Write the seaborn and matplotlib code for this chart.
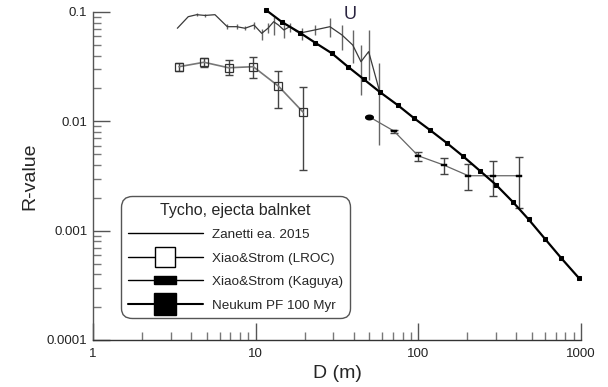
import matplotlib
matplotlib.use("Agg")
import matplotlib.pyplot as plt
import seaborn as sns
import pandas as pd
import numpy as np
from matplotlib.lines import Line2D
from matplotlib.ticker import FixedLocator, FixedFormatter, LogLocator, NullFormatter

sns.set_style("ticks")
plt.rcParams['font.family'] = ['Liberation Sans', 'DejaVu Sans']

# ---- data ----
zan_D = [3.30, 3.85, 4.34, 4.88, 5.62, 6.69, 7.64, 8.60, 9.77, 10.9, 11.9, 12.9, 13.8,
         14.9, 16.2, 17.9, 19.2, 23.1, 28.6, 33.9, 39.5, 44.4, 49.5, 57.5]
zan_R = [0.071, 0.0906, 0.0945, 0.093, 0.0945, 0.0734, 0.0734, 0.071, 0.076, 0.0638, 0.071,
         0.0815, 0.076, 0.0685, 0.0734, 0.066, 0.0647, 0.0685, 0.0734, 0.0617, 0.0499,
         0.0351, 0.0434, 0.0193]
zan_lo = [0.071, 0.0906, 0.091, 0.090, 0.0945, 0.070, 0.070, 0.068, 0.0694, 0.0555, 0.0638,
          0.0617, 0.076, 0.0575, 0.066, 0.066, 0.0555, 0.0617, 0.0595, 0.0449, 0.0341,
          0.0174, 0.0239, 0.00607]
zan_hi = [0.071, 0.0906, 0.098, 0.096, 0.0945, 0.077, 0.077, 0.074, 0.0815, 0.0695, 0.0788,
          0.0906, 0.076, 0.0815, 0.0788, 0.066, 0.071, 0.076, 0.0875, 0.076, 0.0684,
          0.0499, 0.0684, 0.0341]

lroc_D = [3.38, 4.81, 6.82, 9.67, 13.8, 19.6]
lroc_R = [0.0316, 0.0347, 0.0309, 0.0316, 0.0210, 0.0121]
lroc_lo = [0.029, 0.0316, 0.0265, 0.0247, 0.0132, 0.00358]
lroc_hi = [0.034, 0.0377, 0.0364, 0.0386, 0.029, 0.0207]

kag_D = [49.9, 70.8, 99.8, 143.5, 203, 289, 413]
kag_R = [0.0110, 0.00815, 0.00484, 0.00398, 0.00318, 0.00318, 0.00318]
kag_lo = [0.0110, 0.0079, 0.00434, 0.0033, 0.00235, 0.00207, 0.0016]
kag_hi = [0.0110, 0.0084, 0.00527, 0.00458, 0.00406, 0.00431, 0.00474]

neu_D = [11.6, 14.5, 18.7, 23.2, 29.4, 36.9, 46.3, 58.1, 75.0, 94.0, 118, 149, 187, 239,
         300, 380, 476, 600, 756, 967]
neu_R = [0.104, 0.081, 0.0647, 0.0524, 0.0419, 0.0316, 0.0242, 0.0185, 0.0140, 0.0107,
         0.00832, 0.00637, 0.00484, 0.00353, 0.00263, 0.00184, 0.00127, 0.000843,
         0.000561, 0.000371]

x_ticks = [1, 10, 100, 1000]
x_labels = ["1", "10", "100", "1000"]
y_ticks = [0.0001, 0.001, 0.01, 0.1]
y_labels = ["0.0001", "0.001", "0.01", "0.1"]

legend_title = "Tycho, ejecta balnket"
labels = ["Zanetti ea. 2015", "Xiao&Strom (LROC)", "Xiao&Strom (Kaguya)", "Neukum PF 100 Myr"]

# ---- figure ----
fig = plt.figure(figsize=(6.08, 3.87), dpi=100)
ax = fig.add_axes([93/608, 1-340/387, (581-93)/608, (340-12)/387])
ax.set_xscale("log")
ax.set_yscale("log")
ax.set_xlim(1, 1000)
ax.set_ylim(0.0001, 0.1)

kag_marker = [(-1, -0.4), (1, -0.4), (1, 0.4), (-1, 0.4), (-1, -0.4)]
oval_t = np.linspace(0, 2*np.pi, 25)
oval_marker = list(zip(np.cos(oval_t), 0.6*np.sin(oval_t)))

# Zanetti
zdf = pd.DataFrame({"D": zan_D, "R": zan_R})
ax.errorbar(zan_D, zan_R, yerr=[np.array(zan_R)-np.array(zan_lo), np.array(zan_hi)-np.array(zan_R)],
            fmt="none", ecolor="#666666", elinewidth=1.0, capsize=0, zorder=2)
sns.lineplot(data=zdf, x="D", y="R", ax=ax, sort=False, estimator=None,
             color="#3a3a3a", linewidth=0.9, zorder=3)

# LROC
ldf = pd.DataFrame({"D": lroc_D, "R": lroc_R})
ax.errorbar(lroc_D, lroc_R, yerr=[np.array(lroc_R)-np.array(lroc_lo), np.array(lroc_hi)-np.array(lroc_R)],
            fmt="none", ecolor="#444444", elinewidth=1.0, capsize=3, capthick=1.0, zorder=2)
sns.lineplot(data=ldf, x="D", y="R", ax=ax, sort=False, estimator=None,
             color="#777777", linewidth=1.2, marker="s", markersize=5.5,
             markerfacecolor="none", markeredgecolor="#333333", markeredgewidth=0.9, zorder=4)

# Kaguya
kdf = pd.DataFrame({"D": kag_D, "R": kag_R})
ax.errorbar(kag_D, kag_R, yerr=[np.array(kag_R)-np.array(kag_lo), np.array(kag_hi)-np.array(kag_R)],
            fmt="none", ecolor="#444444", elinewidth=1.0, capsize=3, capthick=1.0, zorder=2)
sns.lineplot(data=kdf, x="D", y="R", ax=ax, sort=False, estimator=None,
             color="#666666", linewidth=0.9, marker=kag_marker, markersize=4.5,
             markerfacecolor="black", markeredgecolor="black", markeredgewidth=0.3, zorder=4)
# first Kaguya point drawn as a larger oval
ax.plot(kag_D[:1], kag_R[:1], marker=oval_marker, linestyle="none", markersize=5.5,
        markerfacecolor="black", markeredgecolor="black", zorder=5)

# Neukum
ndf = pd.DataFrame({"D": neu_D, "R": neu_R})
sns.lineplot(data=ndf, x="D", y="R", ax=ax, sort=False, estimator=None,
             color="black", linewidth=1.6, marker="s", markersize=3,
             markerfacecolor="black", markeredgecolor="black", zorder=5, clip_on=False)

ax.text(38, 0.094, "U", fontsize=13, color="#2a2440", ha="center", va="center")

# ---- axes styling ----
for s in ["top", "right"]:
    ax.spines[s].set_visible(False)
ax.spines["left"].set_color("#555555")
ax.spines["bottom"].set_color("#333333")
ax.spines["left"].set_linewidth(1.0)
ax.spines["bottom"].set_linewidth(1.0)

ax.xaxis.set_major_locator(FixedLocator(x_ticks))
ax.xaxis.set_major_formatter(FixedFormatter(x_labels))
ax.yaxis.set_major_locator(FixedLocator(y_ticks))
ax.yaxis.set_major_formatter(FixedFormatter(y_labels))
ax.xaxis.set_minor_locator(LogLocator(base=10, subs=np.arange(2, 10)))
ax.yaxis.set_minor_locator(LogLocator(base=10, subs=np.arange(2, 10)))
ax.xaxis.set_minor_formatter(NullFormatter())
ax.yaxis.set_minor_formatter(NullFormatter())

ax.tick_params(axis="both", which="major", direction="in", length=12, width=1.0,
               color="#555555", labelsize=9.5, labelcolor="#222222")
ax.tick_params(axis="both", which="minor", direction="in", length=6, width=1.0, color="#777777")
ax.tick_params(axis="x", which="major", pad=6)
ax.tick_params(axis="y", which="major", pad=4)

ax.set_xlabel("D (m)", fontsize=14, labelpad=3)
ax.set_ylabel("R-value", fontsize=14, labelpad=6)
ax.grid(False)

# ---- legend ----
handles = [
    Line2D([], [], color="black", linewidth=1.0),
    Line2D([], [], color="black", linewidth=1.0, marker="s", markersize=15,
           markerfacecolor="white", markeredgecolor="black", markeredgewidth=1.0),
    Line2D([], [], color="black", linewidth=1.0, marker=kag_marker, markersize=16,
           markerfacecolor="black", markeredgecolor="black"),
    Line2D([], [], color="black", linewidth=1.5, marker="s", markersize=15.5,
           markerfacecolor="black", markeredgecolor="black"),
]
leg = ax.legend(handles, labels, title=legend_title, loc="lower left",
                bbox_to_anchor=(0.057, 0.066), borderaxespad=0, fontsize=9.7,
                title_fontsize=11.5, handlelength=5.6, handletextpad=0.7,
                labelspacing=0.82, borderpad=0.5, frameon=True, fancybox=True)
frame = leg.get_frame()
frame.set_edgecolor("#555555")
frame.set_linewidth(1.0)
frame.set_boxstyle("round,pad=0,rounding_size=0.8")
frame.set_alpha(1)

fig.savefig("out.png", dpi=100)
